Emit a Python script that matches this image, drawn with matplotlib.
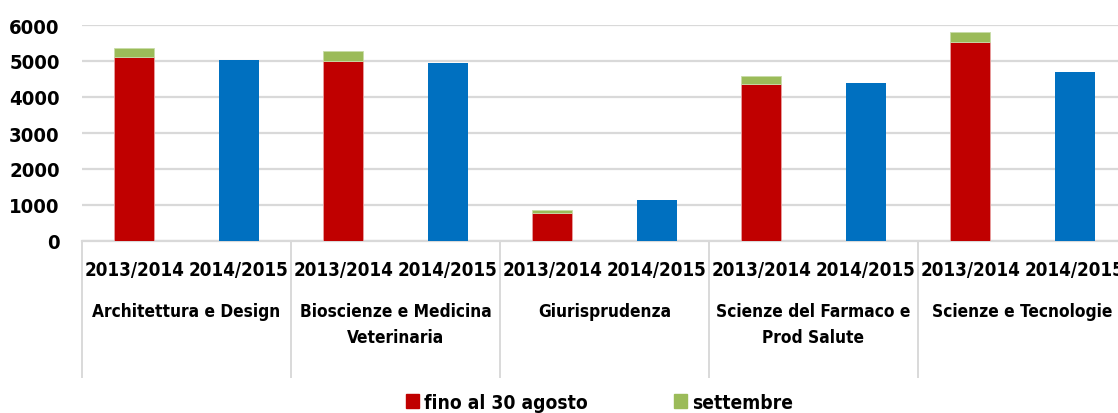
import matplotlib.pyplot as plt
import matplotlib.transforms as mtransforms
from matplotlib.patches import Patch

# data
groups = ["Architettura e Design", "Bioscienze e Medicina\nVeterinaria", "Giurisprudenza",
          "Scienze del Farmaco e\nProd Salute", "Scienze e Tecnologie"]
years = ["2013/2014", "2014/2015"]
fino_agosto = [5110, 4990, 780, 4350, 5540]
settembre = [260, 290, 80, 230, 270]
anno_2014_15 = [5030, 4940, 1140, 4390, 4690]

RED = "#c00000"
GREEN = "#9bbb59"
BLUE = "#0070c0"
GRID = "#d9d9d9"

# narrow bold face, close to Calibri
plt.rcParams["font.family"] = ["DejaVu Sans"]
plt.rcParams["font.stretch"] = "condensed"
plt.rcParams["font.weight"] = "bold"
FS_YEAR = 13.5
FS_GROUP = 12.4

fig = plt.figure(figsize=(11.18, 4.14), dpi=100)
# plot area runs past the right edge, like the cropped original
ax = fig.add_axes([82 / 1118, 1 - 242 / 414, 1045 / 1118, 216 / 414])

width = 0.385
x_red = [2 * i + 0.5 for i in range(len(groups))]
x_blue = [2 * i + 1.5 for i in range(len(groups))]

ax.bar(x_red, fino_agosto, width, color=RED, edgecolor="#e8a0a0", linewidth=0.6, zorder=3)
ax.bar(x_red, settembre, width, bottom=fino_agosto, color=GREEN,
       edgecolor="#c8dca8", linewidth=0.6, zorder=3)
ax.bar(x_blue, anno_2014_15, width, color=BLUE, zorder=3)

ax.set_xlim(0, 2 * len(groups))
ax.set_ylim(0, 6000)
ax.set_yticks(range(0, 6001, 1000))
ax.tick_params(axis="y", length=0, labelsize=14.6, pad=16)
for lbl in ax.get_yticklabels():
    lbl.set_fontweight("bold")
ax.set_xticks([])
ax.grid(axis="y", color=GRID, linewidth=1.6, zorder=0)
for side in ["top", "right", "left"]:
    ax.spines[side].set_visible(False)
ax.spines["bottom"].set_color(GRID)
ax.spines["bottom"].set_linewidth(1.6)

trans = mtransforms.blended_transform_factory(ax.transData, ax.transAxes)
for i in range(len(groups) + 1):
    ax.plot([2 * i, 2 * i], [0, -0.63], transform=trans, color=GRID,
            linewidth=1.4, clip_on=False)

for i, g in enumerate(groups):
    for j, y in enumerate(years):
        ax.text(2 * i + 0.5 + j, -0.13, y, transform=trans, ha="center", va="center",
                fontsize=FS_YEAR, fontweight="bold")
    ax.text(2 * i + 1, -0.282, g, transform=trans, ha="center", va="top",
            fontsize=FS_GROUP, fontweight="bold", linespacing=1.55)

handles = [Patch(color=RED, label="fino al 30 agosto"), Patch(color=GREEN, label="settembre")]
fig.legend(handles=handles, loc="center", bbox_to_anchor=(0.536, 0.026), ncol=2,
           frameon=False, handlelength=0.68, handleheight=0.68,
           handletextpad=0.26, columnspacing=4.5, borderpad=0,
           prop={"weight": "bold", "size": 13.8, "stretch": "condensed"})

fig.savefig("out.png", dpi=100)
